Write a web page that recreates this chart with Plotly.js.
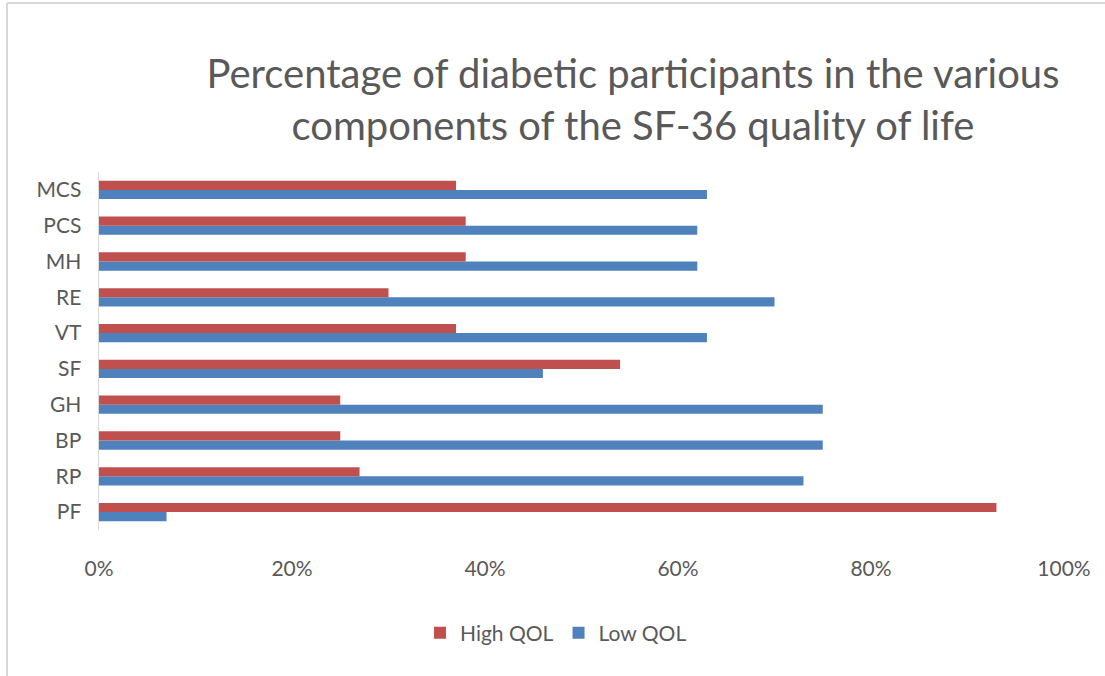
<!DOCTYPE html>
<html>
<head>
<meta charset="utf-8">
<script src="https://cdn.plot.ly/plotly-3.0.1.min.js"></script>
<style>body{margin:0;background:#fff}#chart{width:1105px;height:676px}</style>
</head>
<body>
<div id="chart"></div>
<script>
const categories = ['PF','RP','BP','GH','SF','VT','RE','MH','PCS','MCS'];
const highQOL = [93, 27, 25, 25, 54, 37, 30, 38, 38, 37];
const lowQOL  = [7, 73, 75, 75, 46, 63, 70, 62, 62, 63];
const seriesNames = ['High QOL', 'Low QOL'];
const xTicks = [0, 20, 40, 60, 80, 100];
const xTickText = ['0%', '20%', '40%', '60%', '80%', '100%'];

const W = 1105, H = 676;
const mL = 99, mR = 41, mT = 172, mB = 146;
const pw = W - mL - mR, ph = H - mT - mB;
const px = x => (x - mL) / pw;
const py = y => (H - mB - y) / ph;

const font = 'Lato, "Open Sans", sans-serif';
const grey = '#595959';

const traces = [
  {type:'bar', orientation:'h', name: seriesNames[1], y: categories, x: lowQOL,
   marker:{color:'#4F81BD'}},
  {type:'bar', orientation:'h', name: seriesNames[0], y: categories, x: highQOL,
   marker:{color:'#C0504D'}}
];

const layout = {
  width: W, height: H,
  margin: {l: mL, r: mR, t: mT, b: mB},
  paper_bgcolor: '#fff', plot_bgcolor: '#fff',
  barmode: 'group', bargap: 0.49, bargroupgap: 0,
  title: {
    text: 'Percentage of diabetic participants in the various<br>components of the SF-36 quality of life',
    font: {family: font, size: 40, color: grey},
    x: px(633), xanchor: 'center', xref: 'paper',
    y: 1 - 88/H, yanchor: 'top', yref: 'container'
  },
  xaxis: {
    range: [0, 100], tickvals: xTicks, ticktext: xTickText,
    showgrid: false, zeroline: false, showline: false, ticks: '',
    tickfont: {family: font, size: 21, color: grey},
    ticklabelstandoff: 24, fixedrange: true
  },
  yaxis: {
    type: 'category', categoryorder: 'array', categoryarray: categories,
    showgrid: false, zeroline: false, showline: true, linecolor: '#d9d9d9', linewidth: 1.5,
    ticks: '', tickfont: {family: font, size: 21, color: grey},
    ticklabelstandoff: 12, fixedrange: true
  },
  legend: {
    orientation: 'h', traceorder: 'reversed',
    x: px(556), xanchor: 'center', y: py(633), yanchor: 'middle',
    font: {family: font, size: 21, color: grey},
    itemwidth: 30
  },
  showlegend: true,
  shapes: [
    {type:'line', xref:'paper', yref:'paper', x0: px(7), x1: px(7), y0: py(3), y1: py(H+5),
     line:{color:'#d9d9d9', width: 2}},
    {type:'line', xref:'paper', yref:'paper', x0: px(7), x1: px(W+5), y0: py(3), y1: py(3),
     line:{color:'#d9d9d9', width: 2}}
  ]
};

Plotly.newPlot('chart', traces, layout, {displayModeBar: false, staticPlot: true});
</script>
</body>
</html>
